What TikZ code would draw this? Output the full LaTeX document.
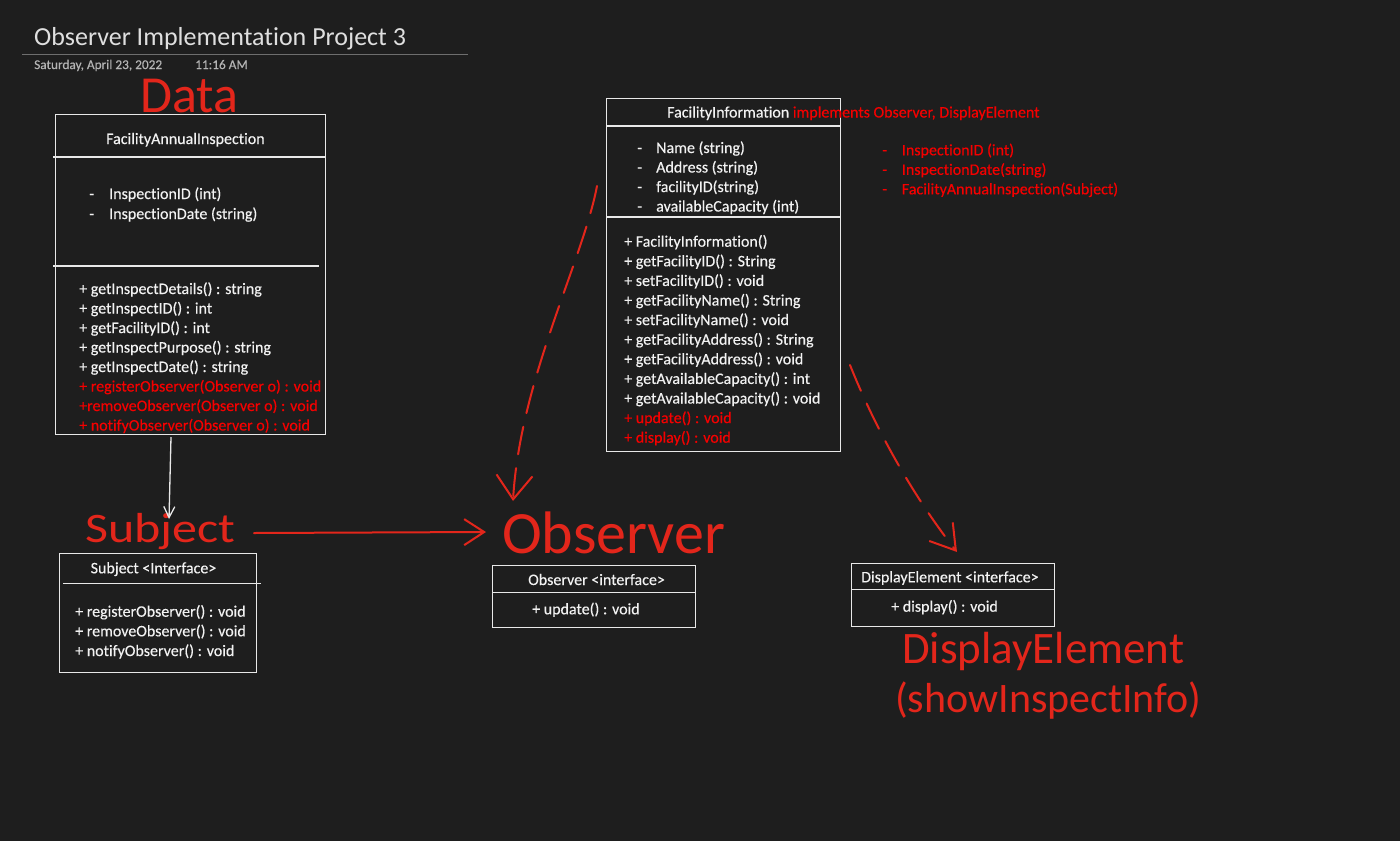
\documentclass[tikz,border=0pt]{standalone}
\usepackage{fontspec}
\setmainfont{Carlito}[Ligatures=NoCommon]
\newfontfamily\bodyfont{Carlito}[FakeBold=0.35, Ligatures=NoCommon]
\usepackage{graphicx}
\usetikzlibrary{arrows.meta}
\definecolor{bg}{HTML}{1E1E1E}
\definecolor{fg}{HTML}{F2F2F2}
\definecolor{boxline}{HTML}{E8E8E8}
\definecolor{tred}{HTML}{F50000}
\definecolor{hred}{HTML}{E3261B}
\definecolor{dategray}{HTML}{B4B4B4}
\definecolor{rulegray}{HTML}{6E6E6E}
\tikzset{
 umlbox/.style={draw=boxline, line width=1.4pt, inner sep=0pt, anchor=north west},
 sepline/.style={draw=boxline, line width=1.4pt},
 txt/.style={anchor=base west, inner sep=0pt, text=fg, font=\bodyfont\fontsize{16}{19}\selectfont},
 rtxt/.style={txt, text=tred},
 hand/.style={anchor=base west, inner sep=0pt, text=hred},
 redarrow/.style={draw=hred, line width=2pt, line cap=round},
 reddash/.style={redarrow, dash pattern=on 28pt off 14pt},
}
\begin{document}
\begin{tikzpicture}[x=1pt,y=-1pt]
\useasboundingbox (0,0) rectangle (1400,841);
\fill[bg] (0,0) rectangle (1400,841);

% title
\node[anchor=base west, inner sep=0pt, text=fg!92!black, font=\fontsize{26}{30}\selectfont] (title) at (34,45) {Observer Implementation Project 3};
\draw[rulegray, line width=1pt] (22,54) -- (468,54);
\node[anchor=base west, inner sep=0pt, text=dategray, font=\bodyfont\fontsize{13.3}{16}\selectfont] (date) at (34,69) {Saturday, April 23, 2022};
\node[anchor=base west, inner sep=0pt, text=dategray, font=\bodyfont\fontsize{13.3}{16}\selectfont] (time) at (195,69) {11:16 AM};

% FacilityAnnualInspection
\node[umlbox, minimum width=270pt, minimum height=320pt] (fai) at (55,114) {};
\node[txt] (faih) at (106,144) {FacilityAnnualInspection};
\draw[sepline] (53,157) -- (325,157);
\node[txt] (faid1) at (89,199) {-};
\node[txt] (faia1) at (109,199) {InspectionID (int)};
\node[txt] (faid2) at (89,219) {-};
\node[txt] (faia2) at (109,219) {InspectionDate (string)};
\draw[sepline] (53,266) -- (319,266);
\node[txt] (faim1) at (79,294) {+ getInspectDetails() : string};
\node[txt] (faim2) at (79,313.5) {+ getInspectID() : int};
\node[txt] (faim3) at (79,333) {+ getFacilityID() : int};
\node[txt] (faim4) at (79,352.5) {+ getInspectPurpose() : string};
\node[txt] (faim5) at (79,372) {+ getInspectDate() : string};
\node[rtxt] (faim6) at (79,391.5) {+ registerObserver(Observer o) : void};
\node[rtxt] (faim7) at (79,411) {+removeObserver(Observer o) : void};
\node[rtxt] (faim8) at (79,430.5) {+ notifyObserver(Observer o) : void};

% FacilityInformation
\node[umlbox, minimum width=234pt, minimum height=353pt] (fi) at (606,98) {};
\node[txt] (fih) at (667,117.5) {FacilityInformation \textcolor{tred}{implements Observer, DisplayElement}};
\draw[sepline] (606,126) -- (840,126);
\node[txt] (fid1) at (637,153) {-};
\node[txt] (fia1) at (656,153) {Name (string)};
\node[txt] (fid2) at (637,172.5) {-};
\node[txt] (fia2) at (656,172.5) {Address (string)};
\node[txt] (fid3) at (637,192) {-};
\node[txt] (fia3) at (656,192) {facilityID(string)};
\node[txt] (fid4) at (637,211.5) {-};
\node[txt] (fia4) at (656,211.5) {availableCapacity (int)};
\draw[sepline] (606,217) -- (840,217);
\node[txt] (fim1) at (624,246.7) {+ FacilityInformation()};
\node[txt] (fim2) at (624,266.3) {+ getFacilityID() : String};
\node[txt] (fim3) at (624,285.9) {+ setFacilityID() : void};
\node[txt] (fim4) at (624,305.5) {+ getFacilityName() : String};
\node[txt] (fim5) at (624,325.1) {+ setFacilityName() : void};
\node[txt] (fim6) at (624,344.7) {+ getFacilityAddress() : String};
\node[txt] (fim7) at (624,364.3) {+ getFacilityAddress() : void};
\node[txt] (fim8) at (624,383.9) {+ getAvailableCapacity() : int};
\node[txt] (fim9) at (624,403.5) {+ getAvailableCapacity() : void};
\node[rtxt] (fim10) at (624,423.1) {+ update() : void};
\node[rtxt] (fim11) at (624,442.7) {+ display() : void};

% red notes list
\node[rtxt] (nd1) at (882,155.3) {-};
\node[rtxt] (n1) at (901.7,155.3) {InspectionID (int)};
\node[rtxt] (nd2) at (882,174.8) {-};
\node[rtxt] (n2) at (901.7,174.8) {InspectionDate(string)};
\node[rtxt] (nd3) at (882,194.3) {-};
\node[rtxt] (n3) at (901.7,194.3) {FacilityAnnualInspection(Subject)};

% Subject interface
\node[umlbox, minimum width=197pt, minimum height=119pt] (subj) at (59,553) {};
\node[txt] (subjh) at (90.5,573.3) {Subject <Interface>};
\draw[sepline] (63,583.5) -- (260.5,583.5);
\node[txt] (subjm1) at (75,616.7) {+ registerObserver() : void};
\node[txt] (subjm2) at (75,636.3) {+ removeObserver() : void};
\node[txt] (subjm3) at (75,656) {+ notifyObserver() : void};

% Observer interface
\node[umlbox, minimum width=203pt, minimum height=62pt] (obs) at (492,565) {};
\node[txt] (obsh) at (528,585) {Observer <interface>};
\draw[sepline] (492,592.5) -- (695,592.5);
\node[txt] (obsm) at (532,614.3) {+ update() : void};

% DisplayElement interface
\node[umlbox, minimum width=203pt, minimum height=63pt] (de) at (851,563) {};
\node[txt] (deh) at (861,582.3) {DisplayElement <interface>};
\draw[sepline] (851,589.5) -- (1054,589.5);
\node[txt] (dem) at (891,611.7) {+ display() : void};

% handwritten labels
\node[hand, font=\fontsize{52}{52}\selectfont] (hdata) at (140,112) {Data};
\node[hand, font=\fontsize{42}{42}\selectfont] (hsubj) at (85,542) {\scalebox{1.19}[1]{Subject}};
\node[hand, font=\fontsize{60}{60}\selectfont] (hobs) at (502,553) {Observer};
\node[hand, font=\fontsize{45}{45}\selectfont] (hde) at (902,663) {DisplayElement};
\node[hand, font=\fontsize{42}{42}\selectfont] (hshow) at (895,712) {(showInspectInfo)};

% connectors
\coordinate (wa) at (171,437);
\coordinate (wb) at (169,519);
\draw[draw=boxline, line width=1.3pt, -{Straight Barb[length=11pt,width=11pt]}] (wa) -- (wb);

\coordinate (ra) at (254,533);
\coordinate (rb) at (486,532);
\draw[redarrow, -{Straight Barb[length=20pt,width=26pt,line width=2pt]}] (ra) -- (rb);

\coordinate (da) at (597,186);
\coordinate (db) at (513,501);
\draw[reddash, -{Straight Barb[length=24pt,width=36pt,line width=2pt]}] (da) .. controls (583,260) and (520,380) .. (db);

\coordinate (ea) at (850,365);
\coordinate (eb) at (957,552);
\draw[reddash, -{Straight Barb[length=24pt,width=30pt,line width=2pt]}] (ea) .. controls (880,440) and (920,505) .. (eb);
\end{tikzpicture}
\end{document}
